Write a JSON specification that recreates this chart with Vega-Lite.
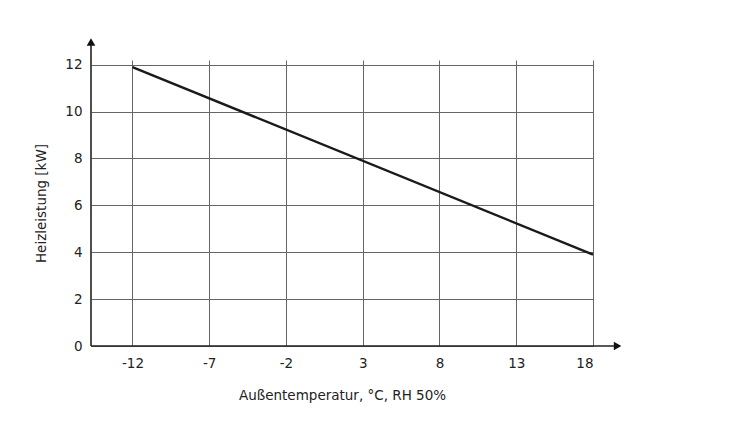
{
  "$schema": "https://vega.github.io/schema/vega-lite/v6.json",
  "autosize": "none",
  "width": 502,
  "height": 286,
  "padding": {"left": 91, "top": 60, "right": 157, "bottom": 90},
  "background": "white",
  "config": {
    "font": "DejaVu Sans",
    "view": {"stroke": null},
    "axis": {"labelFont": "DejaVu Sans", "titleFont": "DejaVu Sans", "labelColor": "#222", "titleColor": "#222", "titleFontWeight": "normal", "labelFontSize": 13.5, "titleFontSize": 13.5, "gridColor": "#666", "gridOpacity": 1, "gridWidth": 1, "ticks": false, "domain": false}
  },
  "layer": [
    {
      "data": {"values": [{"t": -12, "p": 11.9}, {"t": 18, "p": 3.9}]},
      "mark": {"type": "line", "color": "#1a1a1a", "strokeWidth": 2.4},
      "encoding": {
        "x": {"field": "t", "type": "quantitative", "scale": {"domain": [-14.7, 18], "nice": false, "zero": false},
          "axis": {"values": [-12, -7, -2, 3, 8, 13, 18], "labelExpr": "toString(datum.value)", "grid": true, "labelPadding": 10, "title": "Außentemperatur, °C, RH 50%", "titlePadding": 19}},
        "y": {"field": "p", "type": "quantitative", "scale": {"domain": [0, 12.2], "nice": false},
          "axis": {"values": [0, 2, 4, 6, 8, 10, 12], "grid": true, "labelPadding": 9, "title": "Heizleistung [kW]", "titlePadding": 16}}
      }
    },
    {
      "data": {"values": [{"x1": -14.7, "x2": 19.4, "y1": 0, "y2": 0}, {"x1": -14.7, "x2": -14.7, "y1": 0, "y2": 12.85}]},
      "mark": {"type": "rule", "color": "#222", "strokeWidth": 1.6},
      "encoding": {
        "x": {"field": "x1", "type": "quantitative"},
        "x2": {"field": "x2"},
        "y": {"field": "y1", "type": "quantitative"},
        "y2": {"field": "y2"}
      }
    },
    {
      "data": {"values": [{"x": 19.6, "y": 0, "s": "triangle-right"}, {"x": -14.7, "y": 12.97, "s": "triangle-up"}]},
      "mark": {"type": "point", "filled": true, "color": "#111", "size": 75, "opacity": 1},
      "encoding": {
        "x": {"field": "x", "type": "quantitative"},
        "y": {"field": "y", "type": "quantitative"},
        "shape": {"field": "s", "type": "nominal", "scale": null, "legend": null}
      }
    }
  ]
}
